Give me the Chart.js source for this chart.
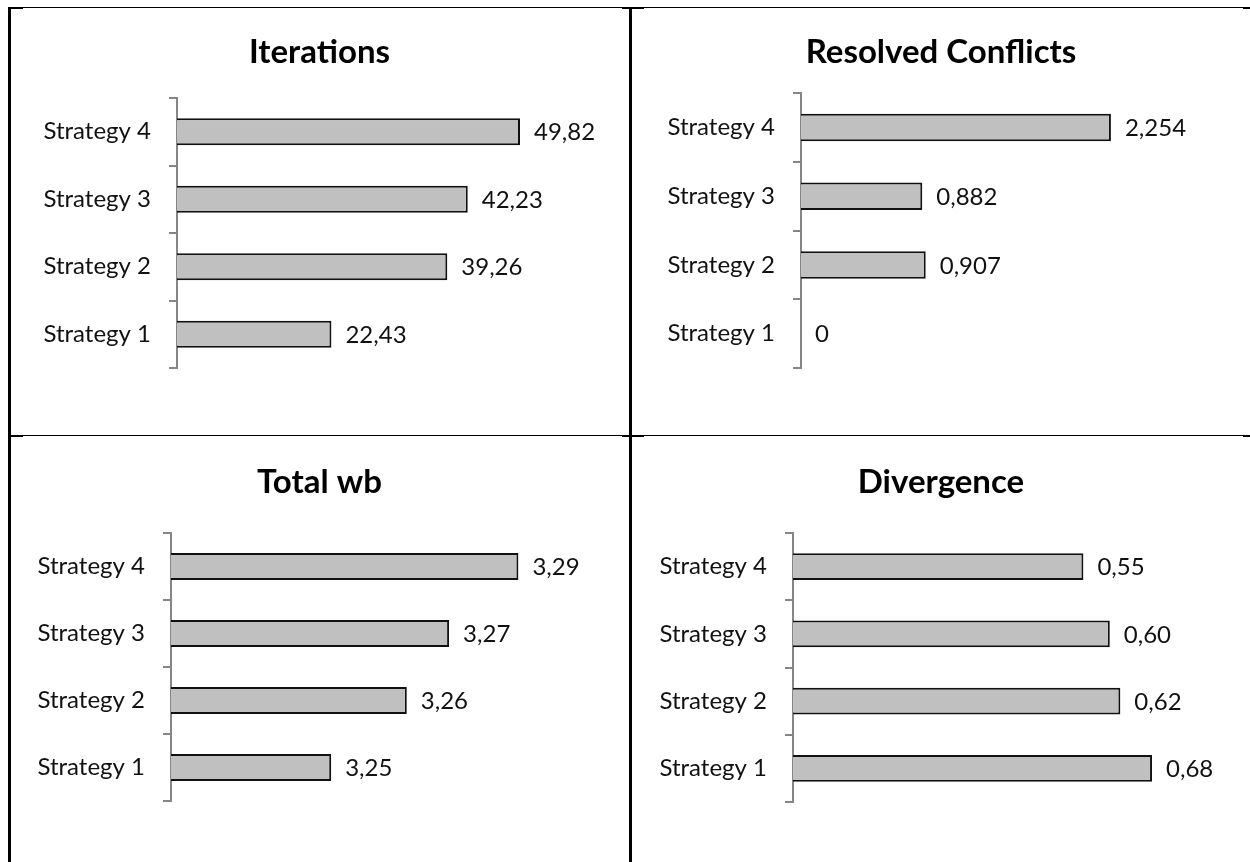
<!DOCTYPE html>
<html>
<head>
<meta charset="utf-8">
<script src="https://cdn.jsdelivr.net/npm/chart.js@4.4.1/dist/chart.umd.min.js"></script>
<style>
  html, body { margin: 0; padding: 0; background: #fff; }
  body { width: 1250px; height: 862px; position: relative; overflow: hidden; }
  .panel { position: absolute; }
  .line { position: absolute; background: #000; }
</style>
</head>
<body>
<!-- table borders -->
<div class="line" style="left:8px;top:7px;width:1242px;height:1px"></div>
<div class="line" style="left:8px;top:7px;width:15px;height:2px"></div>
<div class="line" style="left:622px;top:7px;width:22px;height:2px"></div>
<div class="line" style="left:1243px;top:7px;width:7px;height:2px"></div>
<div class="line" style="left:8px;top:435px;width:1242px;height:1px"></div>
<div class="line" style="left:8px;top:435px;width:15px;height:2px"></div>
<div class="line" style="left:622px;top:435px;width:22px;height:2px"></div>
<div class="line" style="left:1243px;top:435px;width:7px;height:2px"></div>
<div class="line" style="left:8px;top:7px;width:3px;height:855px"></div>
<div class="line" style="left:629px;top:7px;width:3px;height:855px"></div>

<div class="panel" style="left:10px;top:8px;width:619px;height:427px"><canvas id="c1"></canvas></div>
<div class="panel" style="left:632px;top:8px;width:618px;height:427px"><canvas id="c2"></canvas></div>
<div class="panel" style="left:10px;top:437px;width:619px;height:425px"><canvas id="c3"></canvas></div>
<div class="panel" style="left:632px;top:437px;width:618px;height:425px"><canvas id="c4"></canvas></div>

<script>
// data (Strategy 1 is drawn at the bottom)
const categories = ['Strategy 1', 'Strategy 2', 'Strategy 3', 'Strategy 4'];
const iterations = [22.43, 39.26, 42.23, 49.82];
const resolvedConflicts = [0, 0.907, 0.882, 2.254];
const totalWb = [3.2456, 3.2624, 3.2718, 3.2872];
const divergence = [0.68, 0.62, 0.60, 0.55];

const FONT = 'Lato, "Open Sans", sans-serif';

// value labels to the right of each bar
const valueLabels = {
    id: 'valueLabels',
    afterDatasetsDraw(chart, args, opts) {
        const ctx = chart.ctx;
        const meta = chart.getDatasetMeta(0);
        const data = chart.data.datasets[0].data;
        ctx.save();
        ctx.font = '24px ' + FONT;
        ctx.fillStyle = '#111';
        ctx.textAlign = 'left';
        ctx.textBaseline = 'middle';
        meta.data.forEach((bar, i) => {
            const v = data[i];
            const txt = v === 0 ? '0' : v.toFixed(opts.decimals).replace('.', ',');
            ctx.fillText(txt, bar.x + 14, bar.y + 1);
        });
        ctx.restore();
    }
};

function makeChart(id, title, values, cfg) {
    const canvas = document.getElementById(id);
    const w = canvas.parentNode.clientWidth;
    // plot runs to the right edge of the panel; max set so bars keep the reference's pixel scale
    const max = cfg.min + (w - cfg.plotLeft) / cfg.unitPx;
    return new Chart(canvas, {
        type: 'bar',
        data: {
            labels: categories,
            datasets: [{
                data: values,
                base: cfg.min,
                backgroundColor: '#c0c0c0',
                borderColor: '#111',
                borderWidth: 2,
                borderSkipped: 'start',
                barPercentage: 0.4,
                categoryPercentage: 1
            }]
        },
        options: {
            indexAxis: 'y',
            responsive: true,
            maintainAspectRatio: false,
            animation: false,
            layout: { padding: { left: 0, top: 0, right: 0, bottom: cfg.padBottom } },
            plugins: {
                legend: { display: false },
                tooltip: { enabled: false },
                title: {
                    display: true,
                    text: title,
                    color: '#000',
                    font: { family: FONT, size: 33, weight: 'bold' },
                    padding: { top: cfg.titleTop, bottom: cfg.plotTop - cfg.titleTop - 39.6 }
                },
                valueLabels: { decimals: cfg.decimals }
            },
            scales: {
                x: { display: false, min: cfg.min, max: max },
                y: {
                    reverse: true,
                    afterFit: (s) => { s.width = cfg.plotLeft; },
                    border: { display: true, color: '#868686', width: 2 },
                    grid: { drawOnChartArea: false, drawTicks: true, tickLength: 8, color: '#868686', lineWidth: 2 },
                    ticks: { color: '#111', padding: 18, font: { family: FONT, size: 24 } }
                }
            }
        },
        plugins: [valueLabels]
    });
}

makeChart('c1', 'Iterations', iterations,
    { min: 0, unitPx: 6.885, decimals: 2, plotLeft: 167, plotTop: 90, padBottom: 67, titleTop: 25 });
makeChart('c2', 'Resolved Conflicts', resolvedConflicts,
    { min: 0, unitPx: 137.5, decimals: 3, plotLeft: 169, plotTop: 85, padBottom: 67, titleTop: 25 });
makeChart('c3', 'Total wb', totalWb,
    { min: 3.21, unitPx: 4500, decimals: 2, plotLeft: 161, plotTop: 96, padBottom: 61, titleTop: 26 });
makeChart('c4', 'Divergence', divergence,
    { min: 0, unitPx: 528, decimals: 2, plotLeft: 161, plotTop: 96, padBottom: 60, titleTop: 26 });
</script>
</body>
</html>
